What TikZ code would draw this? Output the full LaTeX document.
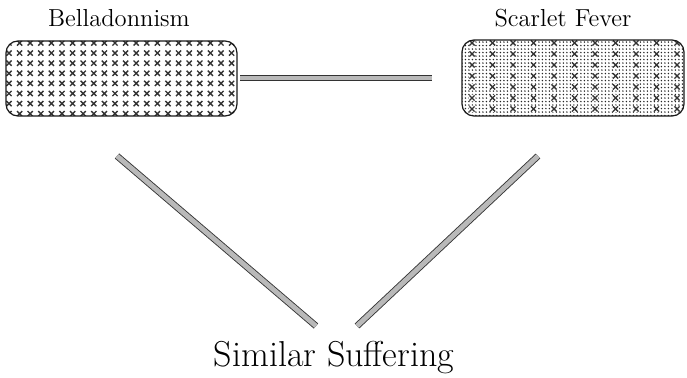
\documentclass[tikz,border=0pt]{standalone}
\usepackage{xcolor}
\usepackage{tikz}
\usetikzlibrary{positioning, patterns.meta, calc}

\tikzdeclarepattern{
  name=finedots,
  type=uncolored,
  bounding box={(-0.035cm,-0.035cm) and (0.035cm,0.035cm)},
  tile size={(0.07cm,0.07cm)},
  code={\fill (0,0) circle (0.016cm);}
}

\begin{document}
\begin{tikzpicture}[x=0.02cm, y=-0.02cm,
  every node/.style={font=\fontsize{14}{16}\selectfont},
  sickbox/.style={draw=black!90, line width=0.7pt, rounded corners=0.24cm},
  xmark/.style={black!80, line width=0.8pt},
  link/.style={draw=black!80, line width=0.5pt, double=gray!55, double distance=2.8pt}]

\useasboundingbox (0,0) rectangle (687,378);

% Boxes
\coordinate (bellaNW) at (6,41);
\coordinate (bellaSE) at (237,116);
\coordinate (scarNW) at (462,40);
\coordinate (scarSE) at (684,116);

\begin{scope}
  \clip[rounded corners=0.24cm] (bellaNW) rectangle (bellaSE);
  \foreach \i in {0,...,21} {
    \foreach \j in {0,...,7} {
      \pgfmathsetmacro{\xc}{9+\i*10.6}
      \pgfmathsetmacro{\yc}{43+\j*10.1}
      \draw[xmark] (\xc-2.6,\yc-2.6) -- (\xc+2.6,\yc+2.6) (\xc-2.6,\yc+2.6) -- (\xc+2.6,\yc-2.6);
    }
  }
\end{scope}
\draw[sickbox] (bellaNW) rectangle (bellaSE);

\begin{scope}
  \clip[rounded corners=0.24cm] (scarNW) rectangle (scarSE);
  \fill[pattern=finedots, pattern color=black!85] (scarNW) rectangle (scarSE);
  \foreach \i in {0,...,10} {
    \foreach \j in {0,...,6} {
      \pgfmathsetmacro{\xc}{472+\i*20.5}
      \pgfmathsetmacro{\yc}{43+\j*11}
      \fill[white] (\xc,\yc) circle (3.5);
      \draw[xmark] (\xc-2.6,\yc-2.6) -- (\xc+2.6,\yc+2.6) (\xc-2.6,\yc+2.6) -- (\xc+2.6,\yc-2.6);
    }
  }
\end{scope}
\draw[sickbox] (scarNW) rectangle (scarSE);

% Labels
\node (bella) at (119,18) {Belladonnism};
\node (scarlet) at (563,18) {Scarlet Fever};
\node[font=\fontsize{20.5}{24}\selectfont] (suffer) at (334,358) {Similar Suffering};

% Connectors
\coordinate (hleft) at (240,78);
\coordinate (hright) at (432,78);
\coordinate (lefttop) at (117,156);
\coordinate (leftbot) at (316,326);
\coordinate (righttop) at (538,156);
\coordinate (rightbot) at (357,326);

\draw[link] (hleft) -- (hright);
\draw[link] (lefttop) -- (leftbot);
\draw[link] (righttop) -- (rightbot);

\end{tikzpicture}
\end{document}
